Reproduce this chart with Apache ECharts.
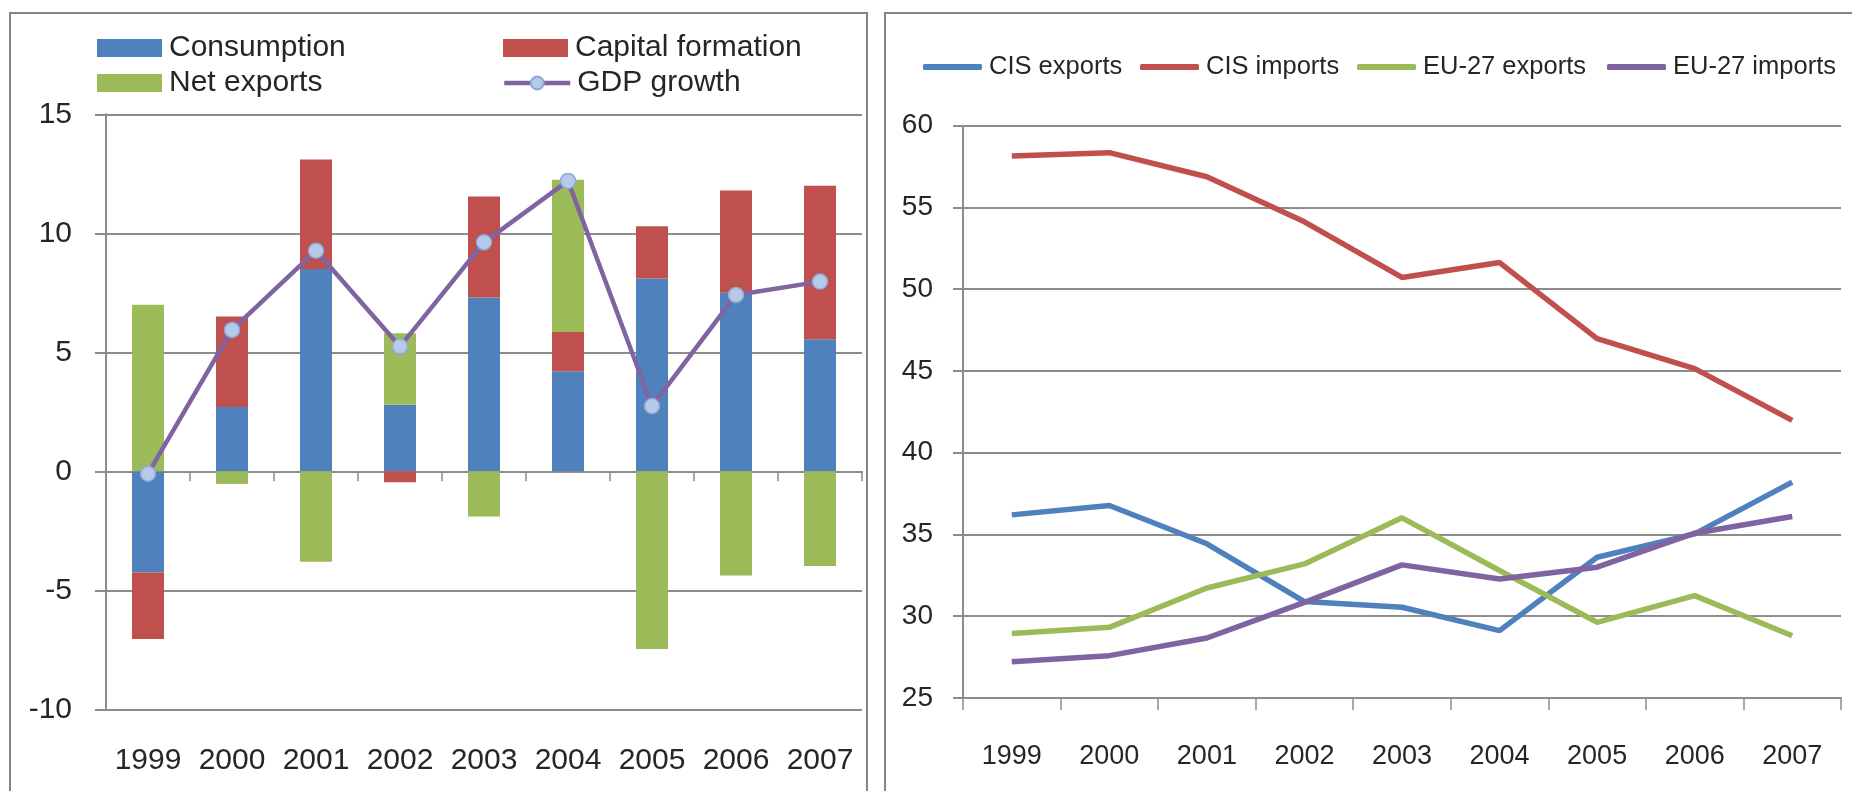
<!DOCTYPE html>
<html>
<head>
<meta charset="utf-8">
<script src="https://cdn.jsdelivr.net/npm/echarts@6/dist/echarts.min.js"></script>
<style>
html,body{margin:0;padding:0;background:#fff;}
#c{width:1852px;height:791px;}
</style>
</head>
<body>
<div id="c"></div>
<script>
// ---- data ----
var years = ['1999','2000','2001','2002','2003','2004','2005','2006','2007'];
var consumption = [-4.25, 2.7, 8.5, 2.8, 7.3, 4.2, 8.1, 7.5, 5.55];
var capitalFormation = [-2.8, 3.8, 4.6, -0.46, 4.25, 1.65, 2.2, 4.3, 6.45];
var netExports = [7.0, -0.53, -3.8, 3.0, -1.9, 6.4, -7.47, -4.38, -3.98];
var gdpGrowth = [-0.1, 5.94, 9.27, 5.24, 9.62, 12.2, 2.74, 7.41, 7.97];

var cisExports = [36.2, 36.77, 34.43, 30.9, 30.55, 29.12, 33.61, 35.04, 38.2];
var cisImports = [58.14, 58.35, 56.88, 54.12, 50.72, 51.63, 46.98, 45.14, 41.98];
var eu27Exports = [28.95, 29.32, 31.73, 33.2, 36.02, 32.8, 29.63, 31.26, 28.81];
var eu27Imports = [27.22, 27.59, 28.67, 30.85, 33.14, 32.28, 33.0, 35.08, 36.1];

var leftTicks = {min: -10, max: 15, interval: 5};
var rightTicks = {min: 25, max: 60, interval: 5};

// ---- style ----
var BLUE = '#4f81bd', RED = '#c0504d', GREEN = '#9bbb59', PURPLE = '#8064a2';
var TXT = '#262626', GRID = '#8c8c8c';
var F1 = "'Liberation Sans', Arial, sans-serif";

function leg(name, left, top, w, h, icon, fs) {
  var o = {
    data: [name], left: left, top: top, padding: 0, itemGap: 0,
    itemWidth: w, itemHeight: h, selectedMode: false,
    lineStyle: {width: 4.5},
    textStyle: {color: TXT, fontFamily: F1, fontSize: fs, padding: [0,0,0,2]}
  };
  if (icon) o.icon = icon;
  return o;
}

var chart = echarts.init(document.getElementById('c'), null, {renderer: 'canvas'});
var option = {
  backgroundColor: '#fff',
  animation: false,
  graphic: [
    {type: 'rect', shape: {x: 10, y: 13, width: 857, height: 800}, style: {fill: 'none', stroke: '#858585', lineWidth: 2}, silent: true},
    {type: 'rect', shape: {x: 885, y: 13, width: 1000, height: 800}, style: {fill: 'none', stroke: '#858585', lineWidth: 2}, silent: true}
  ],
  legend: [
    leg('Consumption', 97, 33, 65, 18, 'rect', 30),
    leg('Capital formation', 503, 33, 65, 18, 'rect', 30),
    leg('Net exports', 97, 68, 65, 18, 'rect', 30),
    leg('GDP growth', 502, 68, 66, 16, null, 30),
    leg('CIS exports', 923, 54, 59, 6, 'roundRect', 25.5),
    leg('CIS imports', 1140, 54, 59, 6, 'roundRect', 25.5),
    leg('EU-27 exports', 1357, 54, 59, 6, 'roundRect', 25.5),
    leg('EU-27 imports', 1607, 54, 59, 6, 'roundRect', 25.5)
  ],
  grid: [
    {left: 106, right: 990, top: 114.3, bottom: 81.7},
    {left: 963, right: 11, top: 125.7, bottom: 93}
  ],
  xAxis: [
    {type: 'category', gridIndex: 0, data: years, boundaryGap: true,
     axisLine: {onZero: true, lineStyle: {color: GRID, width: 2}},
     axisTick: {show: true, length: 10, interval: 0, lineStyle: {color: GRID, width: 1.5}},
     axisLabel: {show: false}, splitLine: {show: false}},
    {type: 'category', gridIndex: 0, data: years, position: 'bottom', boundaryGap: true,
     axisLine: {show: false, onZero: false}, axisTick: {show: false},
     axisLabel: {color: TXT, fontFamily: F1, fontSize: 30, margin: 36, interval: 0}, splitLine: {show: false}},
    {type: 'category', gridIndex: 1, data: years, boundaryGap: true,
     axisLine: {onZero: false, lineStyle: {color: GRID, width: 2}},
     axisTick: {show: true, length: 12, interval: 0, lineStyle: {color: GRID, width: 1.5}},
     axisLabel: {color: TXT, fontFamily: F1, fontSize: 27, margin: 45, interval: 0}, splitLine: {show: false}}
  ],
  yAxis: [
    {type: 'value', gridIndex: 0, min: leftTicks.min, max: leftTicks.max, interval: leftTicks.interval,
     axisLine: {show: true, lineStyle: {color: GRID, width: 2}},
     axisTick: {show: true, length: 11, lineStyle: {color: GRID, width: 2}},
     axisLabel: {color: TXT, fontFamily: F1, fontSize: 30, margin: 34},
     splitLine: {show: true, lineStyle: {color: GRID, width: 2}}},
    {type: 'value', gridIndex: 1, min: rightTicks.min, max: rightTicks.max, interval: rightTicks.interval,
     axisLine: {show: true, lineStyle: {color: GRID, width: 2}},
     axisTick: {show: true, length: 10, lineStyle: {color: GRID, width: 2}},
     axisLabel: {color: TXT, fontFamily: F1, fontSize: 28, margin: 30},
     splitLine: {show: true, lineStyle: {color: GRID, width: 2}}}
  ],
  series: [
    {name: 'Consumption', type: 'bar', stack: 'gdp', xAxisIndex: 0, yAxisIndex: 0, barWidth: 32, data: consumption, itemStyle: {color: BLUE}},
    {name: 'Capital formation', type: 'bar', stack: 'gdp', xAxisIndex: 0, yAxisIndex: 0, barWidth: 32, data: capitalFormation, itemStyle: {color: RED}},
    {name: 'Net exports', type: 'bar', stack: 'gdp', xAxisIndex: 0, yAxisIndex: 0, barWidth: 32, data: netExports, itemStyle: {color: GREEN}},
    {name: 'GDP growth', type: 'line', xAxisIndex: 0, yAxisIndex: 0, data: gdpGrowth, z: 5,
     symbol: 'circle', symbolSize: 15, showAllSymbol: true,
     lineStyle: {color: PURPLE, width: 4.5},
     itemStyle: {color: '#b7c9e8', borderColor: '#8eaad8', borderWidth: 1.5}},
    {name: 'CIS exports', type: 'line', xAxisIndex: 2, yAxisIndex: 1, data: cisExports, symbol: 'none', lineStyle: {color: BLUE, width: 5.5}, itemStyle: {color: BLUE}},
    {name: 'CIS imports', type: 'line', xAxisIndex: 2, yAxisIndex: 1, data: cisImports, symbol: 'none', lineStyle: {color: RED, width: 5.5}, itemStyle: {color: RED}},
    {name: 'EU-27 exports', type: 'line', xAxisIndex: 2, yAxisIndex: 1, data: eu27Exports, symbol: 'none', lineStyle: {color: GREEN, width: 5.5}, itemStyle: {color: GREEN}},
    {name: 'EU-27 imports', type: 'line', xAxisIndex: 2, yAxisIndex: 1, data: eu27Imports, symbol: 'none', lineStyle: {color: PURPLE, width: 5.5}, itemStyle: {color: PURPLE}}
  ]
};
chart.setOption(option);
</script>
</body>
</html>
